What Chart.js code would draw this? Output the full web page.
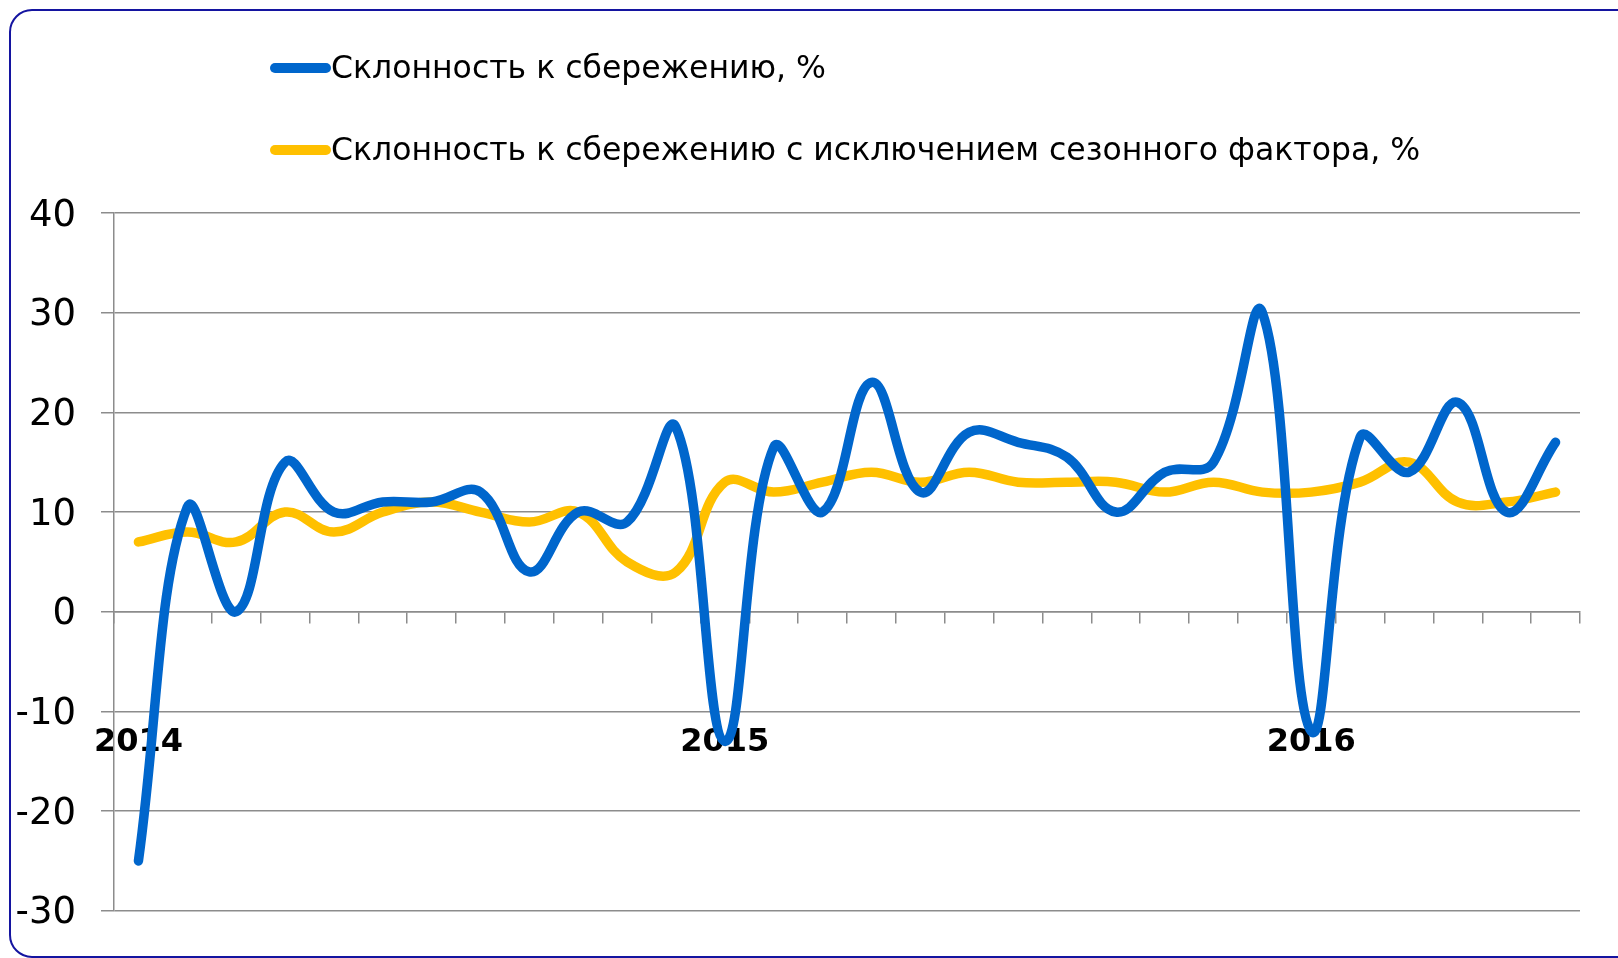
<!DOCTYPE html>
<html lang="ru">
<head>
<meta charset="utf-8">
<title>Склонность к сбережению</title>
<script src="https://cdn.jsdelivr.net/npm/chart.js@4/dist/chart.umd.min.js"></script>
<style>
  html, body { margin: 0; padding: 0; background: #fff; }
  #wrap { position: relative; width: 1618px; height: 958px; }
</style>
</head>
<body>
<div id="wrap"><canvas id="savingsChart" width="1618" height="958"></canvas></div>
<script>
// months Jan 2014 .. Jun 2016
const categories = [
  '2014-01', '2014-02', '2014-03', '2014-04', '2014-05', '2014-06',
  '2014-07', '2014-08', '2014-09', '2014-10', '2014-11', '2014-12',
  '2015-01', '2015-02', '2015-03', '2015-04', '2015-05', '2015-06',
  '2015-07', '2015-08', '2015-09', '2015-10', '2015-11', '2015-12',
  '2016-01', '2016-02', '2016-03', '2016-04', '2016-05', '2016-06'
];
const savingRate = [
  -25, 10.5, 0, 15, 10, 11, 11, 12, 4, 10, 9, 18.5,
  -13, 16.5, 10, 23, 12, 18, 17, 15.5, 10, 14, 15, 30,
  -12, 17.5, 14, 21, 10, 17
];
const savingRateSA = [
  7, 8, 7, 10, 8, 10, 11, 10, 9, 10, 5, 4,
  13, 12, 13, 14, 13, 14, 13, 13, 13, 12, 13, 12,
  12, 13, 15, 11, 11, 12
];
const seriesNames = [
  'Склонность к сбережению, %',
  'Склонность к сбережению с исключением сезонного фактора, %'
];
const seriesColors = ['#0066CC', '#FFC000'];
const yMin = -30, yMax = 40, yStep = 10;

const fontFamily = '"DejaVu Sans", Verdana, sans-serif';
const gridColor = '#8c8c8c';

// rounded frame + legend drawn on the canvas
const framePlugin = {
  id: 'frame',
  beforeDraw(chart) {
    const ctx = chart.ctx;
    ctx.save();
    ctx.fillStyle = '#fff';
    ctx.fillRect(0, 0, chart.width, chart.height);
    ctx.beginPath();
    ctx.roundRect(10, 10, 1628, 947, 22);
    ctx.lineWidth = 2;
    ctx.strokeStyle = '#1414a0';
    ctx.stroke();
    ctx.restore();
  },
  afterDraw(chart) {
    const ctx = chart.ctx;
    const rows = [68, 150];
    ctx.save();
    chart.data.datasets.forEach((ds, i) => {
      const y = rows[i];
      ctx.beginPath();
      ctx.moveTo(275, y);
      ctx.lineTo(326, y);
      ctx.lineWidth = 10;
      ctx.lineCap = 'round';
      ctx.strokeStyle = ds.borderColor;
      ctx.stroke();
      ctx.fillStyle = '#000';
      ctx.font = '31.5px ' + fontFamily;
      ctx.textBaseline = 'middle';
      ctx.textAlign = 'left';
      ctx.fillText(ds.label, 331, y + 2);
    });
    ctx.restore();
  }
};

new Chart(document.getElementById('savingsChart'), {
  type: 'line',
  data: {
    labels: categories,
    datasets: [
      {
        label: seriesNames[0],
        data: savingRate,
        borderColor: seriesColors[0],
        backgroundColor: seriesColors[0],
        borderWidth: 9.5,
        borderCapStyle: 'round',
        pointRadius: 0,
        tension: 0.4
      },
      {
        label: seriesNames[1],
        data: savingRateSA,
        borderColor: seriesColors[1],
        backgroundColor: seriesColors[1],
        borderWidth: 9.5,
        borderCapStyle: 'round',
        pointRadius: 0,
        tension: 0.4
      }
    ]
  },
  options: {
    responsive: false,
    animation: false,
    layout: { padding: { top: 213, right: 38, bottom: 46, left: 0 } },
    plugins: {
      legend: { display: false },
      tooltip: { enabled: false }
    },
    scales: {
      x: {
        position: { y: 0 },
        offset: true,
        afterFit(scale) {
          // big label padding must not eat into the plot width
          scale.paddingLeft = 0;
          scale.paddingRight = 0;
          scale.paddingTop = 0;
          scale.paddingBottom = 0;
        },
        grid: {
          offset: true,
          drawOnChartArea: false,
          drawTicks: true,
          tickLength: 11,
          color: gridColor,
          lineWidth: 1.5
        },
        border: { display: true, color: gridColor, width: 1.5 },
        ticks: {
          autoSkip: false,
          maxRotation: 0,
          padding: 101,
          color: '#000',
          font: { family: fontFamily, size: 32, weight: 'bold' },
          callback(value, index) {
            const label = categories[index];
            return label.endsWith('-01') ? label.slice(0, 4) : '';
          }
        }
      },
      y: {
        min: yMin,
        max: yMax,
        afterFit(scale) { scale.width = 114; },
        grid: {
          color: gridColor,
          lineWidth: 1.5,
          drawTicks: true,
          tickLength: 13
        },
        border: { display: true, color: gridColor, width: 1.5 },
        ticks: {
          stepSize: yStep,
          padding: 25,
          labelOffset: 3,
          color: '#000',
          font: { family: fontFamily, size: 37 }
        }
      }
    }
  },
  plugins: [framePlugin]
});
</script>
</body>
</html>
